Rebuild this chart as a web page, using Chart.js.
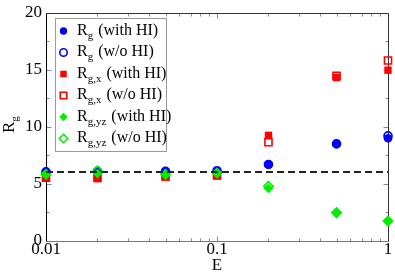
<!DOCTYPE html>
<html><head><meta charset="utf-8">
<script src="https://cdn.jsdelivr.net/npm/chart.js@4/dist/chart.umd.min.js"></script>
<style>html,body{margin:0;padding:0;background:#fff;}</style>
</head><body>
<canvas id="c" width="395" height="274" style="width:395px;height:274px;display:block"></canvas>
<script>
// ---- data ----
const E = [0.01, 0.02, 0.05, 0.1, 0.2, 0.5, 1];
const rgWithHI   = [6.05, 6.1, 6.1, 6.1, 6.7, 8.5, 9.0];
const rgWoHI     = [6.05, 6.1, 6.1, 6.15, 6.7, 8.5, 9.2];
const rgxWithHI  = [5.5, 5.45, 5.6, 5.7, 9.25, 14.3, 14.95];
const rgxWoHI    = [5.55, 5.55, 5.65, 5.75, 8.65, 14.45, 15.8];
const rgyzWithHI = [5.8, 5.9, 5.8, 5.9, 4.6, 2.4, 1.75];
const rgyzWoHI   = [5.85, 6.15, 5.85, 5.95, 4.8, 2.5, 1.75];
const referenceLevel = 6.05;

const xTickValues = [0.01, 0.1, 1];
const xMinorTicks = [0.02,0.03,0.04,0.05,0.06,0.07,0.08,0.09,0.2,0.3,0.4,0.5,0.6,0.7,0.8,0.9];
const yTickValues = [0, 5, 10, 15, 20];
const yMinorTicks = [2.5, 7.5, 12.5, 17.5];

const seriesBase = ['R','R','R','R','R','R'];
const seriesSub  = ['g','g','g,x','g,x','g,yz','g,yz'];
const seriesNote = ['(with HI)','(w/o HI)','(with HI)','(w/o HI)','(with HI)','(w/o HI)'];
const seriesValues = [rgWithHI, rgWoHI, rgxWithHI, rgxWoHI, rgyzWithHI, rgyzWoHI];
const xTitle = 'E';
const yTitleBase = 'R', yTitleSub = 'g';

// ---- styles ----
const BLUE = '#0000ff', RED = '#ff0000', GREEN = '#00ee00';
const styles = [
  {color: BLUE, shape: 'circle', filled: true, r: 4.3},
  {color: BLUE, shape: 'circle', filled: false, r: 4.0},
  {color: RED, shape: 'rect', filled: true, r: 5.2},
  {color: RED, shape: 'rect', filled: false, r: 5.0},
  {color: GREEN, shape: 'rectRot', filled: true, r: 4.8},
  {color: GREEN, shape: 'rectRot', filled: false, r: 4.6},
];
const FONT = "'Liberation Serif', 'Times New Roman', serif";

const datasets = seriesValues.map((vals, i) => ({
  label: seriesBase[i] + seriesSub[i] + ' ' + seriesNote[i],
  data: E.map((x, j) => ({x: x, y: vals[j]})),
  showLine: false,
  pointStyle: styles[i].shape,
  pointRadius: styles[i].r,
  pointHoverRadius: styles[i].r,
  pointBackgroundColor: styles[i].filled ? styles[i].color : 'rgba(0,0,0,0)',
  pointBorderColor: styles[i].color,
  pointBorderWidth: styles[i].filled ? 0 : 1.6,
  clip: false,
  order: 10 - i
}));
datasets.push({
  label: 'reference',
  type: 'line',
  data: [{x: E[0], y: referenceLevel}, {x: E[E.length-1], y: referenceLevel}],
  borderColor: '#222',
  borderWidth: 2,
  borderDash: [7, 4],
  pointRadius: 0,
  fill: false,
  order: 0
});

function drawMarker(ctx, st, x, y, r) {
  ctx.save();
  ctx.beginPath();
  if (st.shape === 'circle') {
    ctx.arc(x, y, r, 0, Math.PI * 2);
  } else if (st.shape === 'rect') {
    const s = Math.SQRT1_2 * r;
    ctx.rect(x - s, y - s, 2 * s, 2 * s);
  } else {
    ctx.moveTo(x - r, y); ctx.lineTo(x, y - r); ctx.lineTo(x + r, y); ctx.lineTo(x, y + r); ctx.closePath();
  }
  if (st.filled) { ctx.fillStyle = st.color; ctx.fill(); }
  else { ctx.strokeStyle = st.color; ctx.lineWidth = 1.6; ctx.stroke(); }
  ctx.restore();
}

const framePlugin = {
  id: 'frame',
  beforeDatasetsDraw(chart) {
    const {ctx, chartArea: a, scales} = chart;
    const xs = scales.x, ys = scales.y;
    ctx.save();
    ctx.strokeStyle = '#888';
    ctx.lineWidth = 1;
    const L = Math.round(a.left) + 0.5, R = Math.round(a.right) + 0.5;
    const T = Math.round(a.top) + 0.5, B = Math.round(a.bottom) + 0.5;
    const tick = (vals, len, isX) => {
      vals.forEach(v => {
        if (isX) {
          const p = Math.round(xs.getPixelForValue(v)) + 0.5;
          ctx.beginPath(); ctx.moveTo(p, B); ctx.lineTo(p, B - len); ctx.stroke();
          ctx.beginPath(); ctx.moveTo(p, T); ctx.lineTo(p, T + len); ctx.stroke();
        } else {
          const p = Math.round(ys.getPixelForValue(v)) + 0.5;
          ctx.beginPath(); ctx.moveTo(L, p); ctx.lineTo(L + len, p); ctx.stroke();
          ctx.beginPath(); ctx.moveTo(R, p); ctx.lineTo(R - len, p); ctx.stroke();
        }
      });
    };
    tick(xTickValues, 5, true);
    tick(xMinorTicks, 3, true);
    tick(yTickValues, 5, false);
    tick(yMinorTicks, 3, false);
    // frame
    ctx.strokeStyle = '#333';
    ctx.beginPath(); ctx.moveTo(L, T); ctx.lineTo(R, T); ctx.lineTo(R, B); ctx.stroke();
    ctx.strokeStyle = '#777';
    ctx.beginPath(); ctx.moveTo(L, B); ctx.lineTo(R, B); ctx.stroke();
    ctx.strokeStyle = '#000';
    ctx.beginPath(); ctx.moveTo(L, T); ctx.lineTo(L, B); ctx.stroke();
    ctx.restore();
  },
  afterDraw(chart) {
    const ctx = chart.ctx;
    ctx.save();
    // legend box
    const bx = 55.5, by = 18.5, bw = 111, bh = 133;
    ctx.fillStyle = '#fff';
    ctx.fillRect(bx, by, bw, bh);
    ctx.strokeStyle = '#999';
    ctx.lineWidth = 1;
    ctx.strokeRect(bx, by, bw, bh);
    const rowY0 = 31, rowStep = 21.5;
    ctx.fillStyle = '#000';
    ctx.textBaseline = 'alphabetic';
    ctx.textAlign = 'left';
    seriesBase.forEach((b, i) => {
      const cy = rowY0 + i * rowStep;
      drawMarker(ctx, styles[i], 63.5, cy, styles[i].shape === 'rect' ? 4.6 : (styles[i].shape === 'circle' ? 3.7 : 4.2));
      let x = 77;
      const base = cy + 3.5;
      ctx.fillStyle = '#000';
      ctx.font = '16px ' + FONT;
      ctx.fillText(b, x, base);
      x += ctx.measureText(b).width;
      ctx.font = '11px ' + FONT;
      ctx.fillText(seriesSub[i], x, base + 4);
      x += ctx.measureText(seriesSub[i]).width;
      ctx.font = '16px ' + FONT;
      ctx.fillText(' ' + seriesNote[i], x + 1, base);
    });
    // y title
    ctx.translate(14, 133);
    ctx.rotate(-Math.PI / 2);
    ctx.font = '17px ' + FONT;
    ctx.fillText(yTitleBase, 0, 0);
    const w = ctx.measureText(yTitleBase).width;
    ctx.font = '11px ' + FONT;
    ctx.fillText(yTitleSub, w, 4);
    ctx.restore();
  }
};

new Chart(document.getElementById('c'), {
  type: 'scatter',
  data: {datasets},
  options: {
    responsive: false,
    animation: false,
    devicePixelRatio: 1,
    layout: {padding: {top: 9, right: 7, left: 0, bottom: 0}},
    plugins: {legend: {display: false}, tooltip: {enabled: false}},
    scales: {
      x: {
        type: 'logarithmic',
        min: 0.01, max: 1,
        grid: {display: false, drawTicks: false},
        border: {display: false},
        afterBuildTicks: s => { s.ticks = xTickValues.map(v => ({value: v})); },
        afterFit: s => { s.height = 33; },
        ticks: {
          autoSkip: false, maxRotation: 0, padding: 0,
          color: '#000', font: {family: FONT, size: 17, lineHeight: 1},
          callback: v => String(v)
        },
        title: {display: true, text: xTitle, color: '#000', font: {family: FONT, size: 17, lineHeight: 1}, padding: {top: 0, bottom: 0}}
      },
      y: {
        min: 0, max: 20,
        grid: {display: false, drawTicks: false},
        border: {display: false},
        afterBuildTicks: s => { s.ticks = yTickValues.map(v => ({value: v})); },
        afterFit: s => { s.width = 46; },
        ticks: {color: '#000', padding: 4, font: {family: FONT, size: 17, lineHeight: 1}}
      }
    }
  },
  plugins: [framePlugin]
});
</script>
</body></html>
